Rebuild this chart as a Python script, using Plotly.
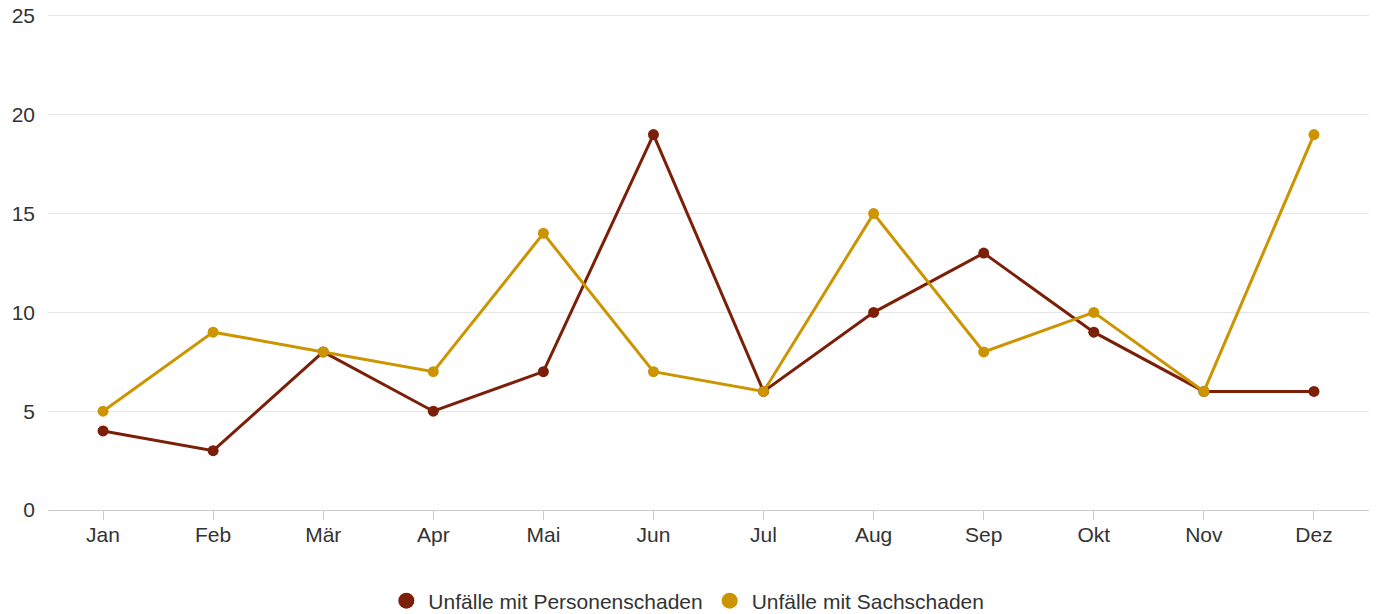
import plotly.graph_objects as go

months = ["Jan", "Feb", "Mär", "Apr", "Mai", "Jun", "Jul", "Aug", "Sep", "Okt", "Nov", "Dez"]
personen = [4, 3, 8, 5, 7, 19, 6, 10, 13, 9, 6, 6]
sach = [5, 9, 8, 7, 14, 7, 6, 15, 8, 10, 6, 19]
names = ["Unfälle mit Personenschaden", "Unfälle mit Sachschaden"]
colors = ["#7B1F08", "#CC9400"]

fig = go.Figure()
for vals, name, col in [(personen, names[0], colors[0]), (sach, names[1], colors[1])]:
    fig.add_trace(go.Scatter(x=months, y=vals, mode="lines+markers", name=name,
                             line=dict(color=col, width=3), marker=dict(size=11, color=col),
                             showlegend=False))
for name, col in zip(names, colors):
    fig.add_trace(go.Scatter(x=[None], y=[None], mode="markers", name=name,
                             marker=dict(size=17, color=col)))

font = dict(family="Liberation Sans, Arial, sans-serif", size=21, color="#333333")
fig.update_layout(
    width=1382, height=614,
    margin=dict(l=48, r=13, t=14, b=104, autoexpand=False),
    plot_bgcolor="white", paper_bgcolor="white",
    font=font,
    xaxis=dict(type="category", range=[-0.5, 11.5], showgrid=False, automargin=False,
               ticks="outside", ticklen=9, tickcolor="#cccccc", tickwidth=1,
               showline=True, linecolor="#cccccc", linewidth=1,
               tickfont=font, ticklabelstandoff=-3),
    yaxis=dict(range=[0, 25.1], tickvals=[0, 5, 10, 15, 20, 25], gridcolor="#e6e6e6", gridwidth=1,
               automargin=False,
               zeroline=False, showline=False, tickfont=font, ticklabelstandoff=12),
    legend=dict(orientation="h", xref="container", x=0.497, xanchor="center",
                y=-0.1835, yanchor="middle", font=font, itemwidth=34),
)
fig.write_html("out.html", post_script="document.body.style.margin='0';",
               config={"displayModeBar": False})
